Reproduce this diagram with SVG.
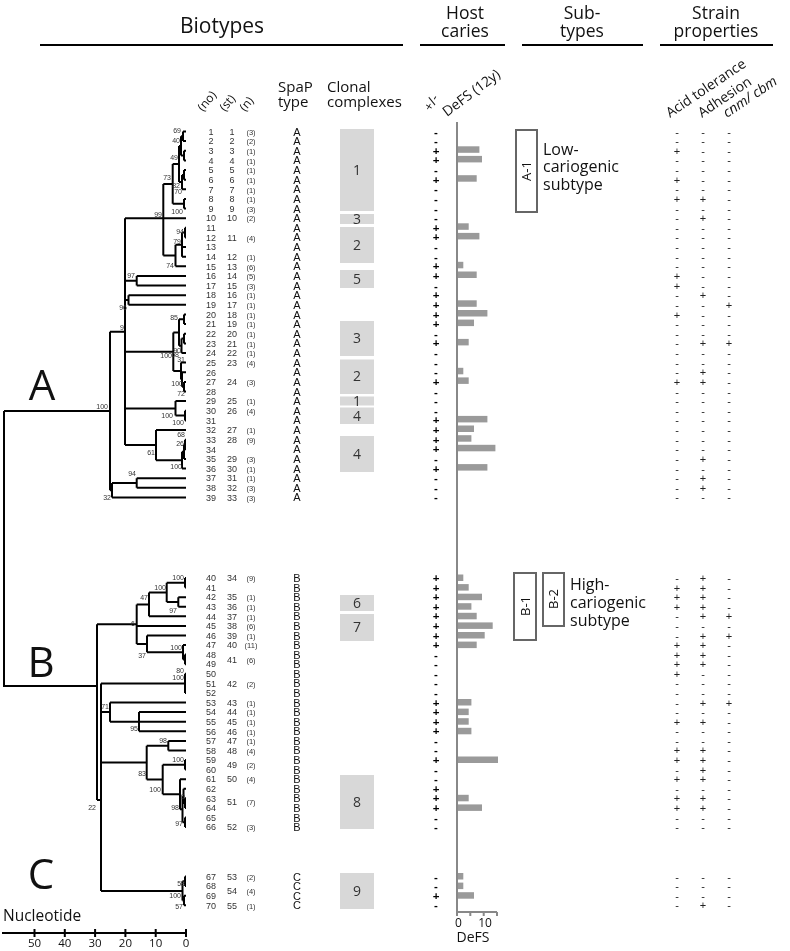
<svg xmlns="http://www.w3.org/2000/svg" width="790" height="951" viewBox="0 0 790 951">
<style>
.o{font-family:"Open Sans","Liberation Sans",sans-serif;fill:#111}
.t{font-family:"Liberation Sans",Arial,sans-serif;fill:#333;text-anchor:middle}
.n{font-size:9px}
.c{font-size:7.5px}
.sp{font-size:11px;fill:#111}
.pm{font-size:11.5px;fill:#000;font-weight:700}
.sg{font-size:11px;fill:#222}
.bar{fill:#9a9a9a}
.bl{font-family:"Liberation Sans",Arial,sans-serif;font-size:7px;fill:#333;text-anchor:end}
.cc{fill:#d8d8d8}
.ccl{font-family:"Open Sans",sans-serif;font-size:14px;fill:#333;text-anchor:middle}
.hl{stroke:#000;stroke-width:2;fill:none}
.tree{stroke:#000;stroke-width:2;fill:none}
.box{fill:#fff;stroke:#666;stroke-width:2}
</style>
<rect width="790" height="951" fill="#fff"/>
<g opacity="0.999">
<g id="headers">
<text class="o" x="222" y="33" font-size="21" text-anchor="middle">Biotypes</text>
<text class="o" x="465" y="19" font-size="17.5" text-anchor="middle">Host</text>
<text class="o" x="465" y="37" font-size="17.5" text-anchor="middle">caries</text>
<text class="o" x="582" y="19" font-size="17.5" text-anchor="middle">Sub-</text>
<text class="o" x="582" y="37" font-size="17.5" text-anchor="middle">types</text>
<text class="o" x="716" y="19" font-size="17.5" text-anchor="middle">Strain</text>
<text class="o" x="716" y="37" font-size="17.5" text-anchor="middle">properties</text>
<path class="hl" d="M40 45H403M420 45H505M522 45H643M660 45H773"/>
<text class="o" font-size="12" transform="translate(203,112) rotate(-50)">(no)</text>
<text class="o" font-size="12" transform="translate(225,112) rotate(-50)">(st)</text>
<text class="o" font-size="12" transform="translate(245,112) rotate(-50)">(n)</text>
<text class="o" x="278" y="92" font-size="15">SpaP</text>
<text class="o" x="278" y="107" font-size="15">type</text>
<text class="o" x="327" y="92" font-size="15">Clonal</text>
<text class="o" x="327" y="107" font-size="15">complexes</text>
<text class="o" font-size="13" transform="translate(431,112) rotate(-60)">+/-</text>
<text class="o" font-size="14" transform="translate(447,117) rotate(-37)">DeFS (12y)</text>
<text class="o" font-size="14" transform="translate(670,118) rotate(-34)">Acid tolerance</text>
<text class="o" font-size="14" transform="translate(702,118) rotate(-34)">Adhesion</text>
<text class="o" font-size="14" font-style="italic" transform="translate(727,118) rotate(-34)">cnm/ cbm</text>
</g>

<g id="clade-labels">
<text class="o" x="42" y="400" font-size="42" text-anchor="middle">A</text>
<text class="o" x="41" y="677" font-size="42" text-anchor="middle">B</text>
<text class="o" x="41" y="889" font-size="42" text-anchor="middle">C</text>
</g>

<g id="connectors">
<path class="tree" d="M183 131.5H186M183 141.1H186M183 131.5V141.1
M184 150.8H186M184 160.4H186M184 150.8V160.4
M181 136.3V155.6M181 136.3H183M181 155.6H184
M184 170H186M184 179.7H186M184 170V179.7
M182 174.9V189.3M182 174.9H184M182 189.3H186
M179 146V182.1M179 146H181M179 182.1H182
M184 198.9H186M184 208.5H186M184 198.9V208.5
M172.7 164V203.7M172.7 164H179M172.7 203.7H184
M185 227.8H186M185 237.4H186M185 227.8V237.4
M182 232.6V256.7M182 232.6H185M182 247.1H186M182 256.7H186
M175.5 244.7V266.3M175.5 244.7H182M175.5 266.3H186
M163.3 183.9V255.5M163.3 183.9H172.7M163.3 255.5H175.5
M125 218.2H186
M136.7 276V285.6M136.7 276H186M136.7 285.6H186M125 280.8H136.7
M128.5 295.2V304.8M128.5 295.2H186M128.5 304.8H186M125 300H128.5
M184 314.5V324.1M184 314.5H186M184 324.1H186
M184 333.7V343.4M184 333.7H186M184 343.4H186
M181.5 338.5V353M181.5 338.5H184M181.5 353H186
M179 319.3V345.8M179 319.3H184M179 345.8H181.5
M184 381.9V391.5M184 381.9H186M184 391.5H186
M182 372.3V386.7M182 372.3H186M182 386.7H184
M181 362.6V379.5M181 362.6H186M181 379.5H182
M173.3 332.6V371M173.3 332.6H179M173.3 371H181M125 351.8H173.3
M185 410.8V420.4M185 410.8H186M185 420.4H186
M175.5 401.1V415.6M175.5 401.1H186M175.5 415.6H185M125 408.4H175.5
M185 439.7V449.3M185 439.7H186M185 449.3H186
M184 444.5V458.9M184 444.5H185M184 458.9H186
M182 451.7V468.6M182 451.7H184M182 468.6H186
M156 430V460.2M156 430H186M156 460.2H182M125 445.1H156
M125 218.2V445.1
M136.7 478.2V487.8M136.7 478.2H186M136.7 487.8H186
M112 483V497.4M112 483H136.7M112 497.4H186
M110 331.7V490.2M110 331.7H125M110 490.2H112
M4 411H110M4 411V686H97
M185 578V587.6M185 578H186M185 587.6H186
M178.3 597.2V606.7M178.3 597.2H186M178.3 606.7H186
M166.7 582.8V602M166.7 582.8H185M166.7 602H178.3
M149 592.4V616.3M149 592.4H166.7M149 616.3H186
M185 654.6V664.2M185 654.6H186M185 664.2H186
M183 645.1V659.4M183 645.1H186M183 659.4H185
M147 635.5V652.3M147 635.5H186M147 652.3H183
M136.7 604.4V643.9M136.7 604.4H149M136.7 625.9H186M136.7 643.9H147
M97 624.2V800M97 624.2H136.7M97 800H101
M185 673.8V693M185 673.8H186M185 693H186M101 683.4H186
M139 712.1V731.3M139 712.1H186M139 721.7H186M139 731.3H186
M110 702.5V721.7M110 702.5H186M110 721.7H139M101 712.1H110
M168.3 740.9V750.4M168.3 740.9H186M168.3 750.4H186
M185 760V769.6M185 760H186M185 769.6H186
M185 798.3V807.9M185 798.3H186M185 807.9H186
M183.5 788.8V803.1M183.5 788.8H186M183.5 803.1H185
M185 817.5V827.1M185 817.5H186M185 827.1H186
M182.5 796V822.3M182.5 796H183.5M182.5 822.3H185
M180 779.2V809.2M180 779.2H186M180 809.2H182.5
M162.7 764.8V794.2M162.7 764.8H185M162.7 794.2H180
M146.7 745.7V779.5M146.7 745.7H168.3M146.7 779.5H162.7M101 762.6H146.7
M185 876.5V886.1M185 876.5H186M185 886.1H186
M184 895.7V905.3M184 895.7H186M184 905.3H186
M182.5 881.3V900.5M182.5 881.3H185M182.5 900.5H184
M101 890.9H182.5M101 683.4V890.9"/>
</g>

<g id="branch-support">
<text class="bl" x="181" y="133">69</text>
<text class="bl" x="180" y="143">40</text>
<text class="bl" x="178" y="160">49</text>
<text class="bl" x="171" y="180">73</text>
<text class="bl" x="180" y="188">82</text>
<text class="bl" x="182" y="194">70</text>
<text class="bl" x="183" y="214">100</text>
<text class="bl" x="162" y="217">99</text>
<text class="bl" x="184" y="234">94</text>
<text class="bl" x="181" y="244">79</text>
<text class="bl" x="174" y="268">74</text>
<text class="bl" x="135" y="278">97</text>
<text class="bl" x="127" y="310">96</text>
<text class="bl" x="124" y="330">9</text>
<text class="bl" x="178" y="320">85</text>
<text class="bl" x="181" y="353">90</text>
<text class="bl" x="172" y="358">100</text>
<text class="bl" x="179" y="357">68</text>
<text class="bl" x="185" y="362">31</text>
<text class="bl" x="183" y="386">100</text>
<text class="bl" x="185" y="396">72</text>
<text class="bl" x="173" y="418">100</text>
<text class="bl" x="184" y="425">100</text>
<text class="bl" x="108" y="409">100</text>
<text class="bl" x="185" y="437">68</text>
<text class="bl" x="184" y="446">26</text>
<text class="bl" x="155" y="455">61</text>
<text class="bl" x="182" y="469">100</text>
<text class="bl" x="136" y="476">94</text>
<text class="bl" x="111" y="500">32</text>
<text class="bl" x="184" y="580">100</text>
<text class="bl" x="166" y="590">100</text>
<text class="bl" x="148" y="600">47</text>
<text class="bl" x="177" y="613">97</text>
<text class="bl" x="135" y="626">6</text>
<text class="bl" x="146" y="658">37</text>
<text class="bl" x="182" y="650">100</text>
<text class="bl" x="184" y="673">80</text>
<text class="bl" x="184" y="680">100</text>
<text class="bl" x="109" y="709">71</text>
<text class="bl" x="138" y="731">95</text>
<text class="bl" x="167" y="743">98</text>
<text class="bl" x="184" y="762">100</text>
<text class="bl" x="146" y="776">83</text>
<text class="bl" x="161" y="792">100</text>
<text class="bl" x="185" y="799">9</text>
<text class="bl" x="179" y="810">98</text>
<text class="bl" x="183" y="826">97</text>
<text class="bl" x="96" y="810">22</text>
<text class="bl" x="185" y="886">58</text>
<text class="bl" x="181" y="898">100</text>
<text class="bl" x="183" y="909">57</text>
</g>

<g id="scale">
<text class="o" x="3" y="921" font-size="15.5">Nucleotide</text>
<path class="hl" d="M2 933H187M34.5 929V937M64.8 929V937M95.1 929V937M125.4 929V937M155.7 929V937M186 929V937"/>
<g class="o" font-size="11.5" text-anchor="middle">
<text x="34.5" y="947">50</text><text x="64.8" y="947">40</text><text x="95.1" y="947">30</text><text x="125.4" y="947">20</text><text x="155.7" y="947">10</text><text x="186" y="947">0</text>
</g>
</g>

<g id="clonal-complexes">
<rect class="cc" x="340" y="129" width="34" height="82"/><text class="ccl" x="357" y="175">1</text>
<rect class="cc" x="340" y="214" width="34" height="10"/><text class="ccl" x="357" y="224">3</text>
<rect class="cc" x="340" y="227" width="34" height="36"/><text class="ccl" x="357" y="250">2</text>
<rect class="cc" x="340" y="270" width="34" height="18"/><text class="ccl" x="357" y="284">5</text>
<rect class="cc" x="340" y="321" width="34" height="35"/><text class="ccl" x="357" y="343">3</text>
<rect class="cc" x="340" y="359.5" width="34" height="34.5"/><text class="ccl" x="357" y="381">2</text>
<rect class="cc" x="340" y="396.5" width="34" height="9"/><text class="ccl" x="357" y="406">1</text>
<rect class="cc" x="340" y="407.5" width="34" height="16.5"/><text class="ccl" x="357" y="421">4</text>
<rect class="cc" x="340" y="436" width="34" height="36"/><text class="ccl" x="357" y="459">4</text>
<rect class="cc" x="340" y="595" width="34" height="16"/><text class="ccl" x="357" y="608">6</text>
<rect class="cc" x="340" y="614" width="34" height="27"/><text class="ccl" x="357" y="632">7</text>
<rect class="cc" x="340" y="775" width="34" height="54"/><text class="ccl" x="357" y="807">8</text>
<rect class="cc" x="340" y="873" width="34" height="36"/><text class="ccl" x="357" y="896">9</text>
</g>

<g id="defs-axis">
<path d="M457 122V912H497M457 912V916M470.3 912V916M483.7 912V916M497 912V916" stroke="#888" stroke-width="2" fill="none"/>
<text class="o" x="458.5" y="927" font-size="12" text-anchor="middle">0</text>
<text class="o" x="485" y="927" font-size="12" text-anchor="middle">10</text>
<text class="o" x="473" y="942" font-size="14" text-anchor="middle">DeFS</text>
</g>

<g id="subtypes">
<g id="A-1"><rect class="box" x="516" y="130" width="21" height="82"/><text class="o" font-size="13" text-anchor="middle" transform="translate(531,171) rotate(-90)">A-1</text>
<text class="o" x="543" y="155" font-size="16">Low-</text><text class="o" x="543" y="172" font-size="16">cariogenic</text><text class="o" x="543" y="190" font-size="16">subtype</text></g>
<g id="B-1"><rect class="box" x="514" y="573" width="22" height="67"/><text class="o" font-size="13" text-anchor="middle" transform="translate(530,606) rotate(-90)">B-1</text></g>
<g id="B-2"><rect class="box" x="543" y="573" width="21" height="53"/><text class="o" font-size="13" text-anchor="middle" transform="translate(558,599) rotate(-90)">B-2</text>
<text class="o" x="570" y="590" font-size="16">High-</text><text class="o" x="570" y="608" font-size="16">cariogenic</text><text class="o" x="570" y="626" font-size="16">subtype</text></g>
</g>

<g id="strains">
<g id="r1"><text class="t n" x="211" y="134.7">1</text><text class="t n" x="232" y="134.7">1</text><text class="t c" x="251" y="134.7">(3)</text><text class="t sp" x="297" y="135.5">A</text><text class="t pm" x="436" y="135.5">-</text><text class="t sg" x="677 703 729" y="135.5">---</text></g>
<g id="r2"><text class="t n" x="211" y="144.3">2</text><text class="t n" x="232" y="144.3">2</text><text class="t c" x="251" y="144.3">(2)</text><text class="t sp" x="297" y="145.1">A</text><text class="t pm" x="436" y="145.1">-</text><text class="t sg" x="677 703 729" y="145.1">---</text></g>
<g id="r3"><text class="t n" x="211" y="154">3</text><text class="t n" x="232" y="154">3</text><text class="t c" x="251" y="154">(1)</text><text class="t sp" x="297" y="154.8">A</text><text class="t pm" x="436" y="154.8">+</text><text class="t sg" x="677 703 729" y="154.8">+--</text><rect class="bar" x="458" y="146.3" width="21.4" height="6.5"/></g>
<g id="r4"><text class="t n" x="211" y="163.6">4</text><text class="t n" x="232" y="163.6">4</text><text class="t c" x="251" y="163.6">(1)</text><text class="t sp" x="297" y="164.4">A</text><text class="t pm" x="436" y="164.4">+</text><text class="t sg" x="677 703 729" y="164.4">---</text><rect class="bar" x="458" y="155.9" width="24" height="6.5"/></g>
<g id="r5"><text class="t n" x="211" y="173.2">5</text><text class="t n" x="232" y="173.2">5</text><text class="t c" x="251" y="173.2">(1)</text><text class="t sp" x="297" y="174">A</text><text class="t pm" x="436" y="174">-</text><text class="t sg" x="677 703 729" y="174">---</text></g>
<g id="r6"><text class="t n" x="211" y="182.9">6</text><text class="t n" x="232" y="182.9">6</text><text class="t c" x="251" y="182.9">(1)</text><text class="t sp" x="297" y="183.7">A</text><text class="t pm" x="436" y="183.7">+</text><text class="t sg" x="677 703 729" y="183.7">+--</text><rect class="bar" x="458" y="175.2" width="18.7" height="6.5"/></g>
<g id="r7"><text class="t n" x="211" y="192.5">7</text><text class="t n" x="232" y="192.5">7</text><text class="t c" x="251" y="192.5">(1)</text><text class="t sp" x="297" y="193.3">A</text><text class="t pm" x="436" y="193.3">-</text><text class="t sg" x="677 703 729" y="193.3">---</text></g>
<g id="r8"><text class="t n" x="211" y="202.1">8</text><text class="t n" x="232" y="202.1">8</text><text class="t c" x="251" y="202.1">(1)</text><text class="t sp" x="297" y="202.9">A</text><text class="t pm" x="436" y="202.9">-</text><text class="t sg" x="677 703 729" y="202.9">++-</text></g>
<g id="r9"><text class="t n" x="211" y="211.7">9</text><text class="t n" x="232" y="211.7">9</text><text class="t c" x="251" y="211.7">(3)</text><text class="t sp" x="297" y="212.5">A</text><text class="t pm" x="436" y="212.5">-</text><text class="t sg" x="677 703 729" y="212.5">---</text></g>
<g id="r10"><text class="t n" x="211" y="221.4">10</text><text class="t n" x="232" y="221.4">10</text><text class="t c" x="251" y="221.4">(2)</text><text class="t sp" x="297" y="222.2">A</text><text class="t pm" x="436" y="222.2">-</text><text class="t sg" x="677 703 729" y="222.2">-+-</text></g>
<g id="r11"><text class="t n" x="211" y="231">11</text><text class="t sp" x="297" y="231.8">A</text><text class="t pm" x="436" y="231.8">+</text><text class="t sg" x="677 703 729" y="231.8">---</text><rect class="bar" x="458" y="223.3" width="10.7" height="6.5"/></g>
<g id="r12"><text class="t n" x="211" y="240.6">12</text><text class="t n" x="232" y="240.6">11</text><text class="t c" x="251" y="240.6">(4)</text><text class="t sp" x="297" y="241.4">A</text><text class="t pm" x="436" y="241.4">+</text><text class="t sg" x="677 703 729" y="241.4">---</text><rect class="bar" x="458" y="232.9" width="21.4" height="6.5"/></g>
<g id="r13"><text class="t n" x="211" y="250.3">13</text><text class="t sp" x="297" y="251.1">A</text><text class="t pm" x="436" y="251.1">-</text><text class="t sg" x="677 703 729" y="251.1">---</text></g>
<g id="r14"><text class="t n" x="211" y="259.9">14</text><text class="t n" x="232" y="259.9">12</text><text class="t c" x="251" y="259.9">(1)</text><text class="t sp" x="297" y="260.7">A</text><text class="t pm" x="436" y="260.7">-</text><text class="t sg" x="677 703 729" y="260.7">---</text></g>
<g id="r15"><text class="t n" x="211" y="269.5">15</text><text class="t n" x="232" y="269.5">13</text><text class="t c" x="251" y="269.5">(6)</text><text class="t sp" x="297" y="270.3">A</text><text class="t pm" x="436" y="270.3">+</text><text class="t sg" x="677 703 729" y="270.3">---</text><rect class="bar" x="458" y="261.8" width="5.3" height="6.5"/></g>
<g id="r16"><text class="t n" x="211" y="279.2">16</text><text class="t n" x="232" y="279.2">14</text><text class="t c" x="251" y="279.2">(5)</text><text class="t sp" x="297" y="280">A</text><text class="t pm" x="436" y="280">+</text><text class="t sg" x="677 703 729" y="280">+--</text><rect class="bar" x="458" y="271.5" width="18.7" height="6.5"/></g>
<g id="r17"><text class="t n" x="211" y="288.8">17</text><text class="t n" x="232" y="288.8">15</text><text class="t c" x="251" y="288.8">(3)</text><text class="t sp" x="297" y="289.6">A</text><text class="t pm" x="436" y="289.6">-</text><text class="t sg" x="677 703 729" y="289.6">+--</text></g>
<g id="r18"><text class="t n" x="211" y="298.4">18</text><text class="t n" x="232" y="298.4">16</text><text class="t c" x="251" y="298.4">(1)</text><text class="t sp" x="297" y="299.2">A</text><text class="t pm" x="436" y="299.2">+</text><text class="t sg" x="677 703 729" y="299.2">-+-</text></g>
<g id="r19"><text class="t n" x="211" y="308">19</text><text class="t n" x="232" y="308">17</text><text class="t c" x="251" y="308">(1)</text><text class="t sp" x="297" y="308.8">A</text><text class="t pm" x="436" y="308.8">+</text><text class="t sg" x="677 703 729" y="308.8">--+</text><rect class="bar" x="458" y="300.3" width="18.7" height="6.5"/></g>
<g id="r20"><text class="t n" x="211" y="317.7">20</text><text class="t n" x="232" y="317.7">18</text><text class="t c" x="251" y="317.7">(1)</text><text class="t sp" x="297" y="318.5">A</text><text class="t pm" x="436" y="318.5">+</text><text class="t sg" x="677 703 729" y="318.5">+--</text><rect class="bar" x="458" y="310" width="29.4" height="6.5"/></g>
<g id="r21"><text class="t n" x="211" y="327.3">21</text><text class="t n" x="232" y="327.3">19</text><text class="t c" x="251" y="327.3">(1)</text><text class="t sp" x="297" y="328.1">A</text><text class="t pm" x="436" y="328.1">+</text><text class="t sg" x="677 703 729" y="328.1">---</text><rect class="bar" x="458" y="319.6" width="16" height="6.5"/></g>
<g id="r22"><text class="t n" x="211" y="336.9">22</text><text class="t n" x="232" y="336.9">20</text><text class="t c" x="251" y="336.9">(1)</text><text class="t sp" x="297" y="337.7">A</text><text class="t pm" x="436" y="337.7">-</text><text class="t sg" x="677 703 729" y="337.7">---</text></g>
<g id="r23"><text class="t n" x="211" y="346.6">23</text><text class="t n" x="232" y="346.6">21</text><text class="t c" x="251" y="346.6">(1)</text><text class="t sp" x="297" y="347.4">A</text><text class="t pm" x="436" y="347.4">+</text><text class="t sg" x="677 703 729" y="347.4">-++</text><rect class="bar" x="458" y="338.9" width="10.7" height="6.5"/></g>
<g id="r24"><text class="t n" x="211" y="356.2">24</text><text class="t n" x="232" y="356.2">22</text><text class="t c" x="251" y="356.2">(1)</text><text class="t sp" x="297" y="357">A</text><text class="t pm" x="436" y="357">-</text><text class="t sg" x="677 703 729" y="357">---</text></g>
<g id="r25"><text class="t n" x="211" y="365.8">25</text><text class="t n" x="232" y="365.8">23</text><text class="t c" x="251" y="365.8">(4)</text><text class="t sp" x="297" y="366.6">A</text><text class="t pm" x="436" y="366.6">-</text><text class="t sg" x="677 703 729" y="366.6">---</text></g>
<g id="r26"><text class="t n" x="211" y="375.5">26</text><text class="t sp" x="297" y="376.3">A</text><text class="t pm" x="436" y="376.3">-</text><text class="t sg" x="677 703 729" y="376.3">-+-</text><rect class="bar" x="458" y="367.8" width="5.3" height="6.5"/></g>
<g id="r27"><text class="t n" x="211" y="385.1">27</text><text class="t n" x="232" y="385.1">24</text><text class="t c" x="251" y="385.1">(3)</text><text class="t sp" x="297" y="385.9">A</text><text class="t pm" x="436" y="385.9">+</text><text class="t sg" x="677 703 729" y="385.9">++-</text><rect class="bar" x="458" y="377.4" width="10.7" height="6.5"/></g>
<g id="r28"><text class="t n" x="211" y="394.7">28</text><text class="t sp" x="297" y="395.5">A</text><text class="t pm" x="436" y="395.5">-</text><text class="t sg" x="677 703 729" y="395.5">---</text></g>
<g id="r29"><text class="t n" x="211" y="404.3">29</text><text class="t n" x="232" y="404.3">25</text><text class="t c" x="251" y="404.3">(1)</text><text class="t sp" x="297" y="405.1">A</text><text class="t pm" x="436" y="405.1">-</text><text class="t sg" x="677 703 729" y="405.1">---</text></g>
<g id="r30"><text class="t n" x="211" y="414">30</text><text class="t n" x="232" y="414">26</text><text class="t c" x="251" y="414">(4)</text><text class="t sp" x="297" y="414.8">A</text><text class="t pm" x="436" y="414.8">-</text><text class="t sg" x="677 703 729" y="414.8">---</text></g>
<g id="r31"><text class="t n" x="211" y="423.6">31</text><text class="t sp" x="297" y="424.4">A</text><text class="t pm" x="436" y="424.4">+</text><text class="t sg" x="677 703 729" y="424.4">---</text><rect class="bar" x="458" y="415.9" width="29.4" height="6.5"/></g>
<g id="r32"><text class="t n" x="211" y="433.2">32</text><text class="t n" x="232" y="433.2">27</text><text class="t c" x="251" y="433.2">(1)</text><text class="t sp" x="297" y="434">A</text><text class="t pm" x="436" y="434">+</text><text class="t sg" x="677 703 729" y="434">---</text><rect class="bar" x="458" y="425.5" width="16" height="6.5"/></g>
<g id="r33"><text class="t n" x="211" y="442.9">33</text><text class="t n" x="232" y="442.9">28</text><text class="t c" x="251" y="442.9">(9)</text><text class="t sp" x="297" y="443.7">A</text><text class="t pm" x="436" y="443.7">+</text><text class="t sg" x="677 703 729" y="443.7">---</text><rect class="bar" x="458" y="435.2" width="13.4" height="6.5"/></g>
<g id="r34"><text class="t n" x="211" y="452.5">34</text><text class="t sp" x="297" y="453.3">A</text><text class="t pm" x="436" y="453.3">+</text><text class="t sg" x="677 703 729" y="453.3">---</text><rect class="bar" x="458" y="444.8" width="37.4" height="6.5"/></g>
<g id="r35"><text class="t n" x="211" y="462.1">35</text><text class="t n" x="232" y="462.1">29</text><text class="t c" x="251" y="462.1">(3)</text><text class="t sp" x="297" y="462.9">A</text><text class="t pm" x="436" y="462.9">-</text><text class="t sg" x="677 703 729" y="462.9">-+-</text></g>
<g id="r36"><text class="t n" x="211" y="471.8">36</text><text class="t n" x="232" y="471.8">30</text><text class="t c" x="251" y="471.8">(1)</text><text class="t sp" x="297" y="472.6">A</text><text class="t pm" x="436" y="472.6">+</text><text class="t sg" x="677 703 729" y="472.6">---</text><rect class="bar" x="458" y="464.1" width="29.4" height="6.5"/></g>
<g id="r37"><text class="t n" x="211" y="481.4">37</text><text class="t n" x="232" y="481.4">31</text><text class="t c" x="251" y="481.4">(1)</text><text class="t sp" x="297" y="482.2">A</text><text class="t pm" x="436" y="482.2">-</text><text class="t sg" x="677 703 729" y="482.2">-+-</text></g>
<g id="r38"><text class="t n" x="211" y="491">38</text><text class="t n" x="232" y="491">32</text><text class="t c" x="251" y="491">(3)</text><text class="t sp" x="297" y="491.8">A</text><text class="t pm" x="436" y="491.8">-</text><text class="t sg" x="677 703 729" y="491.8">-+-</text></g>
<g id="r39"><text class="t n" x="211" y="500.6">39</text><text class="t n" x="232" y="500.6">33</text><text class="t c" x="251" y="500.6">(3)</text><text class="t sp" x="297" y="501.4">A</text><text class="t pm" x="436" y="501.4">-</text><text class="t sg" x="677 703 729" y="501.4">---</text></g>

<g id="r40"><text class="t n" x="211" y="581.2">40</text><text class="t n" x="232" y="581.2">34</text><text class="t c" x="251" y="581.2">(9)</text><text class="t sp" x="297" y="582">B</text><text class="t pm" x="436" y="582">+</text><text class="t sg" x="677 703 729" y="582">-+-</text><rect class="bar" x="458" y="574.5" width="5.3" height="6.5"/></g>
<g id="r41"><text class="t n" x="211" y="590.8">41</text><text class="t sp" x="297" y="591.6">B</text><text class="t pm" x="436" y="591.6">+</text><text class="t sg" x="677 703 729" y="591.6">++-</text><rect class="bar" x="458" y="584.1" width="10.7" height="6.5"/></g>
<g id="r42"><text class="t n" x="211" y="600.4">42</text><text class="t n" x="232" y="600.4">35</text><text class="t c" x="251" y="600.4">(1)</text><text class="t sp" x="297" y="601.2">B</text><text class="t pm" x="436" y="601.2">+</text><text class="t sg" x="677 703 729" y="601.2">++-</text><rect class="bar" x="458" y="593.7" width="24" height="6.5"/></g>
<g id="r43"><text class="t n" x="211" y="609.9">43</text><text class="t n" x="232" y="609.9">36</text><text class="t c" x="251" y="609.9">(1)</text><text class="t sp" x="297" y="610.7">B</text><text class="t pm" x="436" y="610.7">+</text><text class="t sg" x="677 703 729" y="610.7">++-</text><rect class="bar" x="458" y="603.2" width="13.4" height="6.5"/></g>
<g id="r44"><text class="t n" x="211" y="619.5">44</text><text class="t n" x="232" y="619.5">37</text><text class="t c" x="251" y="619.5">(1)</text><text class="t sp" x="297" y="620.3">B</text><text class="t pm" x="436" y="620.3">+</text><text class="t sg" x="677 703 729" y="620.3">-++</text><rect class="bar" x="458" y="612.8" width="18.7" height="6.5"/></g>
<g id="r45"><text class="t n" x="211" y="629.1">45</text><text class="t n" x="232" y="629.1">38</text><text class="t c" x="251" y="629.1">(6)</text><text class="t sp" x="297" y="629.9">B</text><text class="t pm" x="436" y="629.9">+</text><text class="t sg" x="677 703 729" y="629.9">---</text><rect class="bar" x="458" y="622.4" width="34.7" height="6.5"/></g>
<g id="r46"><text class="t n" x="211" y="638.7">46</text><text class="t n" x="232" y="638.7">39</text><text class="t c" x="251" y="638.7">(1)</text><text class="t sp" x="297" y="639.5">B</text><text class="t pm" x="436" y="639.5">+</text><text class="t sg" x="677 703 729" y="639.5">-++</text><rect class="bar" x="458" y="632" width="26.7" height="6.5"/></g>
<g id="r47"><text class="t n" x="211" y="648.3">47</text><text class="t n" x="232" y="648.3">40</text><text class="t c" x="251" y="648.3">(11)</text><text class="t sp" x="297" y="649.1">B</text><text class="t pm" x="436" y="649.1">+</text><text class="t sg" x="677 703 729" y="649.1">++-</text><rect class="bar" x="458" y="641.6" width="18.7" height="6.5"/></g>
<g id="r48"><text class="t n" x="211" y="657.8">48</text><text class="t n" x="232" y="662.6">41</text><text class="t c" x="251" y="662.6">(6)</text><text class="t sp" x="297" y="658.6">B</text><text class="t pm" x="436" y="658.6">-</text><text class="t sg" x="677 703 729" y="658.6">++-</text></g>
<g id="r49"><text class="t n" x="211" y="667.4">49</text><text class="t sp" x="297" y="668.2">B</text><text class="t pm" x="436" y="668.2">-</text><text class="t sg" x="677 703 729" y="668.2">++-</text></g>
<g id="r50"><text class="t n" x="211" y="677">50</text><text class="t sp" x="297" y="677.8">B</text><text class="t pm" x="436" y="677.8">-</text><text class="t sg" x="677 703 729" y="677.8">+--</text></g>
<g id="r51"><text class="t n" x="211" y="686.6">51</text><text class="t n" x="232" y="686.6">42</text><text class="t c" x="251" y="686.6">(2)</text><text class="t sp" x="297" y="687.4">B</text><text class="t pm" x="436" y="687.4">-</text><text class="t sg" x="677 703 729" y="687.4">---</text></g>
<g id="r52"><text class="t n" x="211" y="696.2">52</text><text class="t sp" x="297" y="697">B</text><text class="t pm" x="436" y="697">-</text><text class="t sg" x="677 703 729" y="697">---</text></g>
<g id="r53"><text class="t n" x="211" y="705.7">53</text><text class="t n" x="232" y="705.7">43</text><text class="t c" x="251" y="705.7">(1)</text><text class="t sp" x="297" y="706.5">B</text><text class="t pm" x="436" y="706.5">+</text><text class="t sg" x="677 703 729" y="706.5">-++</text><rect class="bar" x="458" y="699" width="13.4" height="6.5"/></g>
<g id="r54"><text class="t n" x="211" y="715.3">54</text><text class="t n" x="232" y="715.3">44</text><text class="t c" x="251" y="715.3">(1)</text><text class="t sp" x="297" y="716.1">B</text><text class="t pm" x="436" y="716.1">+</text><text class="t sg" x="677 703 729" y="716.1">---</text><rect class="bar" x="458" y="708.6" width="10.7" height="6.5"/></g>
<g id="r55"><text class="t n" x="211" y="724.9">55</text><text class="t n" x="232" y="724.9">45</text><text class="t c" x="251" y="724.9">(1)</text><text class="t sp" x="297" y="725.7">B</text><text class="t pm" x="436" y="725.7">+</text><text class="t sg" x="677 703 729" y="725.7">++-</text><rect class="bar" x="458" y="718.2" width="10.7" height="6.5"/></g>
<g id="r56"><text class="t n" x="211" y="734.5">56</text><text class="t n" x="232" y="734.5">46</text><text class="t c" x="251" y="734.5">(1)</text><text class="t sp" x="297" y="735.3">B</text><text class="t pm" x="436" y="735.3">+</text><text class="t sg" x="677 703 729" y="735.3">---</text><rect class="bar" x="458" y="727.8" width="13.4" height="6.5"/></g>
<g id="r57"><text class="t n" x="211" y="744.1">57</text><text class="t n" x="232" y="744.1">47</text><text class="t c" x="251" y="744.1">(1)</text><text class="t sp" x="297" y="744.9">B</text><text class="t pm" x="436" y="744.9">-</text><text class="t sg" x="677 703 729" y="744.9">---</text></g>
<g id="r58"><text class="t n" x="211" y="753.6">58</text><text class="t n" x="232" y="753.6">48</text><text class="t c" x="251" y="753.6">(4)</text><text class="t sp" x="297" y="754.4">B</text><text class="t pm" x="436" y="754.4">-</text><text class="t sg" x="677 703 729" y="754.4">++-</text></g>
<g id="r59"><text class="t n" x="211" y="763.2">59</text><text class="t n" x="232" y="768">49</text><text class="t c" x="251" y="768">(2)</text><text class="t sp" x="297" y="764">B</text><text class="t pm" x="436" y="764">+</text><text class="t sg" x="677 703 729" y="764">++-</text><rect class="bar" x="458" y="756.5" width="40" height="6.5"/></g>
<g id="r60"><text class="t n" x="211" y="772.8">60</text><text class="t sp" x="297" y="773.6">B</text><text class="t pm" x="436" y="773.6">-</text><text class="t sg" x="677 703 729" y="773.6">-+-</text></g>
<g id="r61"><text class="t n" x="211" y="782.4">61</text><text class="t n" x="232" y="782.4">50</text><text class="t c" x="251" y="782.4">(4)</text><text class="t sp" x="297" y="783.2">B</text><text class="t pm" x="436" y="783.2">-</text><text class="t sg" x="677 703 729" y="783.2">++-</text></g>
<g id="r62"><text class="t n" x="211" y="792">62</text><text class="t sp" x="297" y="792.8">B</text><text class="t pm" x="436" y="792.8">+</text><text class="t sg" x="677 703 729" y="792.8">---</text></g>
<g id="r63"><text class="t n" x="211" y="801.5">63</text><text class="t n" x="232" y="804.5">51</text><text class="t c" x="251" y="804.5">(7)</text><text class="t sp" x="297" y="802.3">B</text><text class="t pm" x="436" y="802.3">+</text><text class="t sg" x="677 703 729" y="802.3">++-</text><rect class="bar" x="458" y="794.8" width="10.7" height="6.5"/></g>
<g id="r64"><text class="t n" x="211" y="811.1">64</text><text class="t sp" x="297" y="811.9">B</text><text class="t pm" x="436" y="811.9">+</text><text class="t sg" x="677 703 729" y="811.9">++-</text><rect class="bar" x="458" y="804.4" width="24" height="6.5"/></g>
<g id="r65"><text class="t n" x="211" y="820.7">65</text><text class="t sp" x="297" y="821.5">B</text><text class="t pm" x="436" y="821.5">-</text><text class="t sg" x="677 703 729" y="821.5">---</text></g>
<g id="r66"><text class="t n" x="211" y="830.3">66</text><text class="t n" x="232" y="830.3">52</text><text class="t c" x="251" y="830.3">(3)</text><text class="t sp" x="297" y="831.1">B</text><text class="t pm" x="436" y="831.1">-</text><text class="t sg" x="677 703 729" y="831.1">---</text></g>

<g id="r67"><text class="t n" x="211" y="879.7">67</text><text class="t n" x="232" y="879.7">53</text><text class="t c" x="251" y="879.7">(2)</text><text class="t sp" x="297" y="880.5">C</text><text class="t pm" x="436" y="880.5">-</text><text class="t sg" x="677 703 729" y="880.5">---</text><rect class="bar" x="458" y="873" width="5.3" height="6.5"/></g>
<g id="r68"><text class="t n" x="211" y="889.3">68</text><text class="t n" x="232" y="894.1">54</text><text class="t c" x="251" y="894.1">(4)</text><text class="t sp" x="297" y="890.1">C</text><text class="t pm" x="436" y="890.1">-</text><text class="t sg" x="677 703 729" y="890.1">---</text><rect class="bar" x="458" y="882.6" width="5.3" height="6.5"/></g>
<g id="r69"><text class="t n" x="211" y="898.9">69</text><text class="t sp" x="297" y="899.7">C</text><text class="t pm" x="436" y="899.7">+</text><text class="t sg" x="677 703 729" y="899.7">---</text><rect class="bar" x="458" y="892.2" width="16" height="6.5"/></g>
<g id="r70"><text class="t n" x="211" y="908.5">70</text><text class="t n" x="232" y="908.5">55</text><text class="t c" x="251" y="908.5">(1)</text><text class="t sp" x="297" y="909.3">C</text><text class="t pm" x="436" y="909.3">-</text><text class="t sg" x="677 703 729" y="909.3">-+-</text></g>
</g>
</g>
</svg>
